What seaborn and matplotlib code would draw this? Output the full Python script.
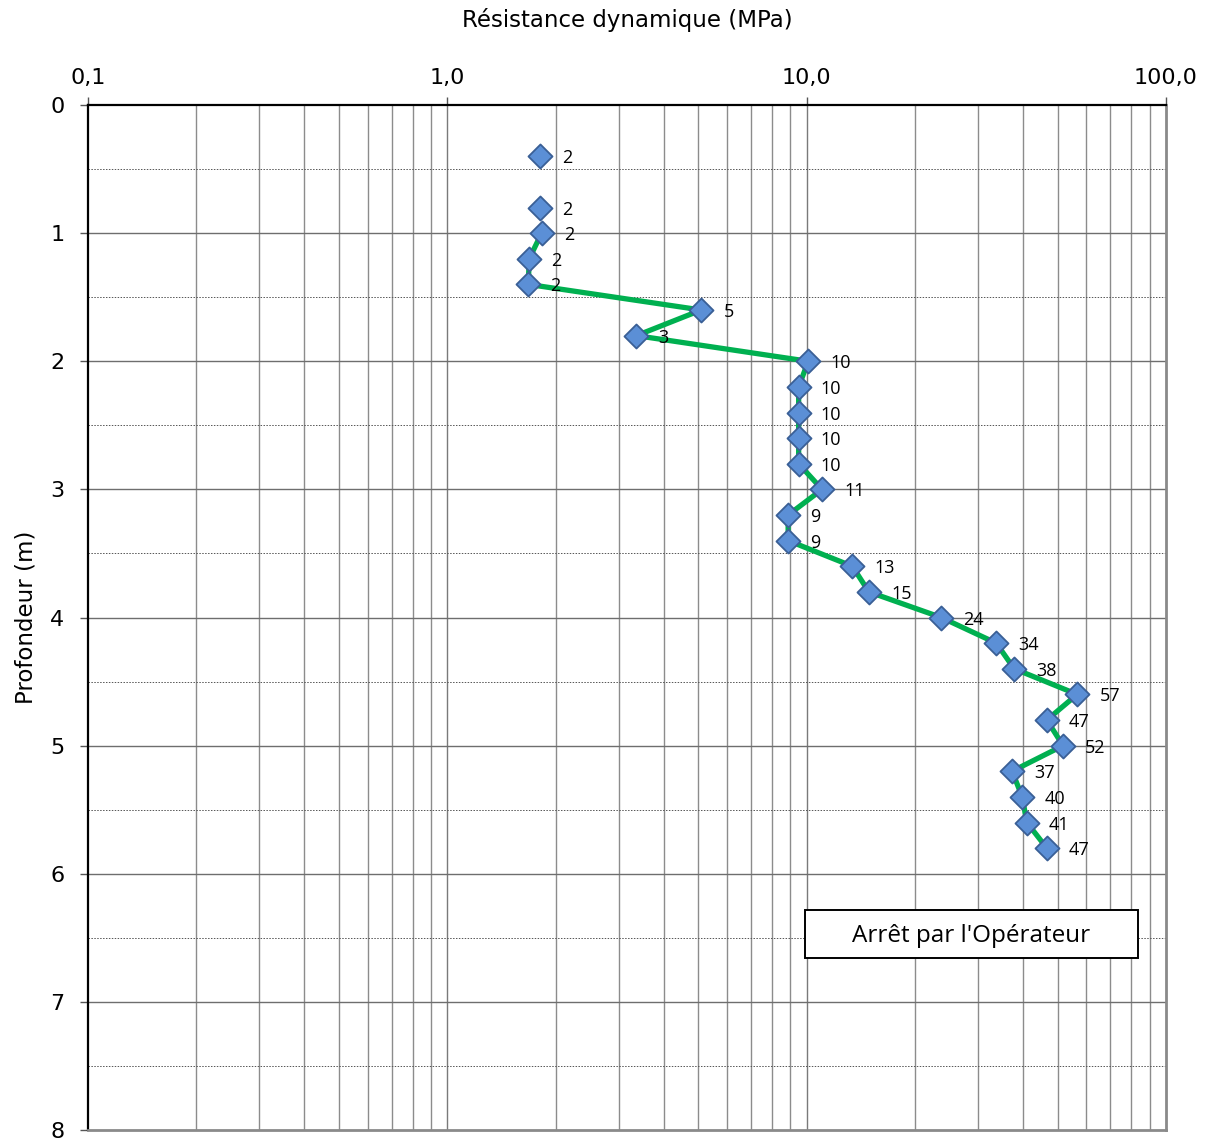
import numpy as np
import pandas as pd
import matplotlib
matplotlib.use("Agg")
import matplotlib.pyplot as plt
from matplotlib.patches import Rectangle
from matplotlib.ticker import FixedLocator, NullFormatter, FixedFormatter
import seaborn as sns

# Penetrometer record: depth (m) and dynamic resistance (MPa)
depth = [0.4, 0.8, 1.0, 1.2, 1.4, 1.6, 1.8, 2.0, 2.2, 2.4, 2.6, 2.8, 3.0,
         3.2, 3.4, 3.6, 3.8, 4.0, 4.2, 4.4, 4.6, 4.8, 5.0, 5.2, 5.4, 5.6, 5.8]
resistance = [1.81, 1.81, 1.83, 1.69, 1.68, 5.09, 3.36, 10.1, 9.5, 9.5, 9.5,
              9.5, 11.04, 8.88, 8.88, 13.4, 14.9, 23.7, 33.7, 37.8, 56.6,
              46.6, 51.7, 37.3, 39.8, 41.0, 46.6]
# the continuous trace begins at 1.0 m
trace_start_depth = 1.0

x_ticks = [0.1, 1.0, 10.0, 100.0]
x_tick_labels = ["0,1", "1,0", "10,0", "100,0"]
y_ticks = [0, 1, 2, 3, 4, 5, 6, 7, 8]
stop_note = "Arrêt par l'Opérateur"

df = pd.DataFrame({"depth": depth, "resistance": resistance})
trace = df[df["depth"] >= trace_start_depth]

sns.set_theme(style="white")
plt.rcParams["font.family"] = ["DejaVu Sans"]
plt.rcParams["text.color"] = "black"
plt.rcParams["axes.labelcolor"] = "black"
plt.rcParams["xtick.color"] = "black"
plt.rcParams["ytick.color"] = "black"

fig = plt.figure(figsize=(12.08, 11.42), dpi=100)
ax = fig.add_axes([88 / 1208, 1 - 1130 / 1142, (1166 - 88) / 1208, (1130 - 105) / 1142])

ax.set_xscale("log")
ax.set_xlim(0.1, 100)
ax.set_ylim(8, 0)

# grid: light verticals on every log subdivision, solid/dotted horizontals
minor_x = [m * 10.0 ** e for e in (-1, 0, 1) for m in range(2, 10)]
for xv in minor_x:
    ax.axvline(xv, color="#8c8c8c", lw=1.0, zorder=0)
for xv in [1.0, 10.0]:
    ax.axvline(xv, color="#7a7a7a", lw=1.0, zorder=0)
for yv in range(1, 8):
    ax.axhline(yv, color="#6e6e6e", lw=1.0, zorder=0)
for yv in np.arange(0.5, 8, 1.0):
    ax.axhline(yv, color="#555555", lw=0.7, ls=(0, (1.5, 1.5)), zorder=0)

sns.lineplot(data=trace, x="resistance", y="depth", sort=False, orient="y",
             estimator=None, color="#00b050", lw=3.8, ax=ax, zorder=2)
sns.scatterplot(data=df, x="resistance", y="depth", marker="D", s=150,
                color="#5b8fd6", edgecolor="#3a5f96", linewidth=1.3,
                ax=ax, zorder=3)

for xv, yv in zip(resistance, depth):
    lab = str(int(np.floor(xv + 0.5)))
    ax.annotate(lab, (xv, yv), xytext=(16, -1.5), textcoords="offset points",
                ha="left", va="center", fontsize=13, family="Open Sans",
                color="black", zorder=4)

ax.xaxis.set_ticks_position("top")
ax.xaxis.set_label_position("top")
ax.xaxis.set_major_locator(FixedLocator(x_ticks))
ax.xaxis.set_major_formatter(FixedFormatter(x_tick_labels))
ax.xaxis.set_minor_locator(FixedLocator(minor_x))
ax.xaxis.set_minor_formatter(NullFormatter())
ax.set_yticks(y_ticks)
ax.set_yticklabels([str(v) for v in y_ticks])

ax.tick_params(axis="x", which="major", top=True, bottom=False, direction="out",
               length=6, width=1, color="#555555", labelsize=16, pad=6)
ax.tick_params(axis="x", which="minor", top=False, bottom=False)
ax.tick_params(axis="y", left=True, direction="out", length=6, width=1,
               color="#555555", labelsize=16, pad=11)

ax.set_xlabel("Résistance dynamique (MPa)", fontsize=16.5, labelpad=30)
ax.set_ylabel("Profondeur (m)", fontsize=16.5, labelpad=9)

for side in ("top", "left"):
    ax.spines[side].set_color("black")
    ax.spines[side].set_linewidth(1.6)
for side in ("bottom", "right"):
    ax.spines[side].set_color("#8a8a8a")
    ax.spines[side].set_linewidth(2.0)
    ax.spines[side].set_visible(True)

# operator stop note in a framed box
box_x0, box_y0, box_w, box_h = 0.6651, 0.1678, 0.3089, 0.0468
ax.add_patch(Rectangle((box_x0, box_y0), box_w, box_h, transform=ax.transAxes,
                       fc="white", ec="black", lw=1.4, zorder=5))
ax.text(box_x0 + box_w / 2, box_y0 + box_h / 2 - 0.002, stop_note,
        transform=ax.transAxes, ha="center", va="center", fontsize=17.5,
        family="Open Sans", color="black", zorder=6)

fig.savefig("out.png", dpi=100)
